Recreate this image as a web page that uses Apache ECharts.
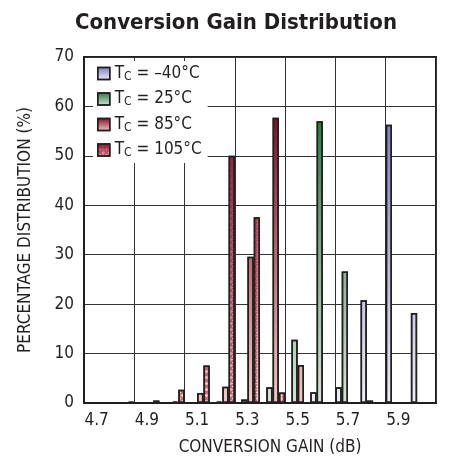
<!DOCTYPE html>
<html>
<head>
<meta charset="utf-8">
<script src="https://cdn.jsdelivr.net/npm/echarts@6/dist/echarts.min.js"></script>
<style>
html,body{margin:0;padding:0;background:#fff;}
#c{width:472px;height:461px;}
</style>
</head>
<body>
<div id="c"></div>
<script>
const categories = ['4.7','4.8','4.9','5.0','5.1','5.2','5.3','5.4','5.5','5.6','5.7','5.8','5.9','6.0'];
const seriesNames = ['-40', '25', '85', '105'];
const legendTemps = ['–40°C', '25°C', '85°C', '105°C'];
const tMinus40 = [0, 0, 0, 0, 0, 0, 0, 0, 0, 2.2, 3.2, 20.8, 56.3, 18.2];
const t25 = [0, 0, 0, 0, 0, 0.3, 0.7, 3.2, 12.8, 57, 26.6, 0.5, 0, 0];
const t85 = [0, 0, 0, 0.3, 2, 3.3, 29.6, 57.7, 7.7, 0, 0, 0, 0, 0];
const t105 = [0, 0.3, 0.5, 2.7, 7.6, 50, 37.6, 2.1, 0, 0, 0, 0, 0, 0];
const yTicks = { min: 0, max: 70, interval: 10 };

const FONT = "'DejaVu Sans Condensed','Liberation Sans Narrow','Liberation Sans',sans-serif";

function grad(top, bottom, global) {
  if (global) {
    return { type: 'linear', x: 0, y: 110, x2: 0, y2: 405, global: true,
      colorStops: [{ offset: 0, color: top }, { offset: 1, color: bottom }] };
  }
  return { type: 'linear', x: 0, y: 0, x2: 0, y2: 1,
    colorStops: [{ offset: 0, color: top }, { offset: 1, color: bottom }] };
}
const palette = [
  ['#7880c2', '#eef0f8'],
  ['#27783f', '#d6e6d6'],
  ['#860826', '#f2cdc6'],
  ['#860826', '#f2cdc6']
];
const hatch = {
  symbol: 'path://M0,0 L2,0 L5,3 L8,0 L10,0 L10,2 L7,5 L10,8 L10,10 L8,10 L5,7 L2,10 L0,10 L0,8 L3,5 L0,2 Z',
  symbolSize: 1,
  color: 'rgba(170,20,50,0.6)',
  dashArrayX: [5, 1],
  dashArrayY: [5, 1],
  rotation: 0
};
const noDecal = { symbol: 'none' };
const datasets = [tMinus40, t25, t85, t105];

const chart = echarts.init(document.getElementById('c'));
chart.setOption({
  animation: false,
  aria: { enabled: true, decal: { show: true } },
  title: {
    text: 'Conversion Gain Distribution',
    left: 'center', top: 7, padding: [5, 13, 5, 5],
    textStyle: { fontFamily: FONT, fontSize: 22, fontWeight: 'bold', color: '#231f20' }
  },
  legend: {
    orient: 'vertical', left: 93, top: 61,
    backgroundColor: '#fff', padding: [4, 6, 4, 4],
    itemWidth: 12, itemHeight: 12, itemGap: 8,
    z: 10,
    data: seriesNames.map((n, i) => ({
      name: n,
      icon: 'rect',
      itemStyle: { color: grad(palette[i][0], palette[i][1], false), borderColor: '#231f20', borderWidth: 1.5 }
    })),
    formatter: name => '{t|T}{s|C}{t| = ' + legendTemps[seriesNames.indexOf(name)] + '}',
    textStyle: {
      fontFamily: FONT, color: '#231f20',
      rich: {
        t: { fontFamily: FONT, fontSize: 17, color: '#231f20' },
        s: { fontFamily: FONT, fontSize: 12, color: '#231f20', verticalAlign: 'bottom', padding: [6, 0, 0, 0] }
      }
    }
  },
  grid: { left: 84, top: 57, width: 352, height: 348, show: true, borderColor: '#231f20', borderWidth: 2 },
  xAxis: {
    type: 'category', data: categories, boundaryGap: true,
    name: 'CONVERSION GAIN (dB)', nameLocation: 'middle', nameGap: 36,
    nameTextStyle: { fontFamily: FONT, fontSize: 17, color: '#231f20', padding: [0, 0, 0, 20] },
    axisLine: { show: true, lineStyle: { color: '#231f20', width: 2 } },
    axisTick: { show: false },
    axisLabel: { interval: 1, fontFamily: FONT, fontSize: 17, color: '#231f20', margin: 9 },
    splitLine: { show: true, interval: 1, lineStyle: { color: '#333', width: 1 } }
  },
  yAxis: {
    type: 'value', min: yTicks.min, max: yTicks.max, interval: yTicks.interval,
    name: 'PERCENTAGE DISTRIBUTION (%)', nameLocation: 'middle', nameGap: 50, nameRotate: 90,
    nameTextStyle: { fontFamily: FONT, fontSize: 17, color: '#231f20' },
    axisLine: { show: true, lineStyle: { color: '#231f20', width: 2 } },
    axisTick: { show: false },
    axisLabel: { fontFamily: FONT, fontSize: 17, color: '#231f20', margin: 10 },
    splitLine: { show: true, lineStyle: { color: '#333', width: 1 } }
  },
  series: datasets.map((d, i) => ({
    name: seriesNames[i],
    type: 'bar',
    data: d,
    barGap: '0%',
    barCategoryGap: '0%',
    itemStyle: {
      color: grad(palette[i][0], palette[i][1], true),
      borderColor: '#231f20', borderWidth: 1.5,
      decal: i === 3 ? hatch : noDecal
    }
  }))
});
</script>
</body>
</html>
